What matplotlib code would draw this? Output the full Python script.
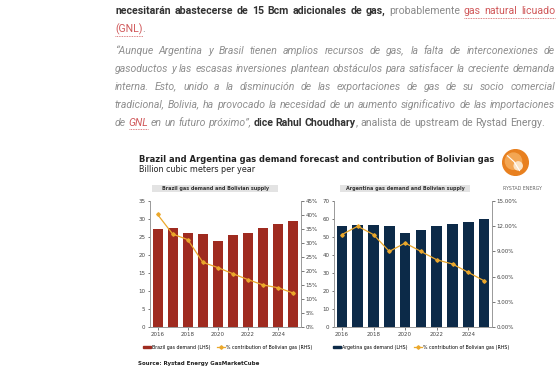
import matplotlib
matplotlib.use("Agg")
import matplotlib.pyplot as plt
from matplotlib.patches import Rectangle, Circle, Patch
from matplotlib.lines import Line2D

# ---- data ----
years = [2016, 2017, 2018, 2019, 2020, 2021, 2022, 2023, 2024, 2025]
brazil_demand = [27.2, 27.5, 26.0, 25.8, 24.0, 25.5, 26.0, 27.5, 28.5, 29.5]
brazil_bolivia_pct = [40.2, 33.2, 31.2, 23.1, 21.2, 19.0, 16.9, 15.0, 14.0, 12.1]
argentina_demand = [56.0, 56.5, 56.5, 56.3, 52.5, 54.0, 56.0, 57.0, 58.5, 60.0]
argentina_bolivia_pct = [11.0, 12.0, 11.0, 9.0, 10.0, 9.0, 8.0, 7.5, 6.5, 5.5]
year_ticks = [2016, 2018, 2020, 2022, 2024]

W, H = 560, 367
fig = plt.figure(figsize=(W / 100, H / 100), dpi=100)
fig.patch.set_facecolor("white")

def fx(px):
    return px / W

def fy(py):
    return 1 - py / H

# ---- article text above the chart ----
STY = {
    "b": dict(family="Roboto", fontweight="bold", color="#333333"),
    "r": dict(family="Roboto", fontweight="normal", color="#8a8a8a"),
    "l": dict(family="Roboto", fontweight="normal", color="#d0585a"),
    "i": dict(family="Roboto", fontweight="normal", style="italic", color="#8f8f8f"),
    "il": dict(family="Roboto", fontweight="normal", style="italic", color="#d0585a"),
}
lines = [
    (11, [("necesitarán abastecerse de 15 Bcm adicionales de gas, ", "b"),
          ("probablemente ", "r"), ("gas natural licuado", "l")], True),
    (29, [("(GNL)", "l"), (".", "r")], False),
    (50.5, [("\u201cAunque Argentina y Brasil tienen amplios recursos de gas, la falta de interconexiones de", "i")], True),
    (68.5, [("gasoductos y las escasas inversiones plantean obstáculos para satisfacer la creciente demanda", "i")], True),
    (86.5, [("interna. Esto, unido a la disminución de las exportaciones de gas de su socio comercial", "i")], True),
    (104.5, [("tradicional, Bolivia, ha provocado la necesidad de un aumento significativo de las importaciones", "i")], True),
    (122.5, [("de ", "i"), ("GNL", "il"), (" en un futuro próximo\u201d, ", "i"),
             ("dice Rahul Choudhary", "b"), (", analista de upstream de Rystad Energy.", "r")], False),
]
X0, X1 = 115, 555
fs_text = 7.6
renderer = fig.canvas.get_renderer()

for ypx, segs, justify in lines:
    # split into words; a segment that does not begin with a space is glued to the previous word
    words = []
    prev_end_space = True
    for txt, sty in segs:
        parts = txt.split(" ")
        for k, p in enumerate(parts):
            if p == "":
                continue
            glue = (k == 0 and not prev_end_space and len(words) > 0)
            words.append([p, sty, glue])
        prev_end_space = txt.endswith(" ")
    arts = [fig.text(0, fy(ypx), w, fontsize=fs_text, va="center", ha="left", **STY[s])
            for w, s, g in words]
    widths = [a.get_window_extent(renderer).width for a in arts]
    n_gaps = sum(1 for w in words[1:] if not w[2])
    space = 2.5
    if justify and n_gaps > 0:
        space = (X1 - X0 - sum(widths)) / n_gaps
    x = X0
    pos = []
    for i, (a, wd) in enumerate(zip(arts, widths)):
        if i > 0 and not words[i][2]:
            x += space
        a.set_x(fx(x))
        pos.append((x, wd))
        x += wd
    # dotted underline for links
    for i, (w, s, g) in enumerate(words):
        if s in ("l", "il"):
            xs, wd = pos[i]
            xe = xs + wd
            if i + 1 < len(words) and words[i + 1][1] == s:
                xe = pos[i + 1][0]
            fig.add_artist(Line2D([fx(xs), fx(xe)], [fy(ypx + 6.5), fy(ypx + 6.5)],
                                  color="#d0585a", lw=0.6, ls=(0, (1, 1))))

# ---- chart titles ----
fig.text(fx(139), fy(159), "Brazil and Argentina gas demand forecast and contribution of Bolivian gas",
         fontsize=6.0, fontweight="bold", color="#222222", va="center", ha="left")
fig.text(fx(139), fy(169.5), "Billion cubic meters per year",
         fontsize=5.8, color="#222222", va="center", ha="left")

# logo
lax = fig.add_axes([fx(502), fy(176), fx(27), 27 / H])
lax.set_xlim(-1, 1)
lax.set_ylim(-1, 1)
lax.set_aspect("equal")
lax.axis("off")
lax.add_patch(Circle((0, 0), 0.95, color="#e8801f"))
lax.add_patch(Circle((-0.15, 0.1), 0.6, color="#f3a653"))
lax.add_patch(Circle((0.2, -0.25), 0.3, color="#fbe3c4"))
lax.plot([-0.6, -0.1, 0.3], [0.5, 0.05, -0.6], color="white", lw=0.8)
fig.text(fx(522), fy(188), "RYSTAD ENERGY", fontsize=3.4, color="#666666", ha="center", va="center")

bar_red = "#9f2b20"
bar_navy = "#0c2a48"
line_col = "#eba82c"
spine_col = "#9a9a9a"
tick_fs = 4.0


def style_axes(ax, ax2):
    for a in (ax, ax2):
        for s in a.spines.values():
            s.set_color(spine_col)
            s.set_linewidth(0.6)
        a.spines["top"].set_visible(False)
        a.tick_params(labelsize=tick_fs, length=1.8, width=0.5, colors="#444444", pad=1.5)
    ax.set_xlim(2015.5, 2025.5)
    ax.set_xticks(year_ticks)


ax_titles = {150: "Brazil gas demand and Bolivian supply",
             334: "Argentina gas demand and Bolivian supply"}


def panel(left, right, title_box, demand, pct, color, ylim, yticks, y2lim, y2ticks, y2fmt, leg_x, leg_label):
    ax = fig.add_axes([fx(left), fy(327), fx(right - left), 126 / H])
    ax2 = ax.twinx()
    ax.bar(years, demand, width=0.66, color=color, zorder=2)
    ax2.plot(years, pct, color=line_col, lw=0.9, marker="D", ms=1.8, zorder=3)
    ax.set_ylim(*ylim)
    ax.set_yticks(yticks)
    ax2.set_ylim(*y2lim)
    ax2.set_yticks(y2ticks)
    ax2.set_yticklabels([y2fmt.format(v) for v in y2ticks])
    style_axes(ax, ax2)
    # panel title in a grey box
    bx0, bx1 = title_box
    fig.add_artist(Rectangle((fx(bx0), fy(192)), fx(bx1 - bx0), 7 / H, color="#e3e3e3", lw=0))
    fig.text(fx((bx0 + bx1) / 2), fy(188.5), ax_titles[left], fontsize=3.5, fontweight="bold",
             color="#333333", ha="center", va="center")
    handles = [Patch(color=color), Line2D([], [], color=line_col, lw=0.9, marker="D", ms=1.8)]
    fig.legend(handles, [leg_label, "% contribution of Bolivian gas (RHS)"], loc="center left",
               bbox_to_anchor=(fx(leg_x), fy(347)), ncol=2, frameon=False, fontsize=3.45,
               handlelength=1.6, handleheight=0.45, handletextpad=0.2, columnspacing=1.5,
               borderpad=0, borderaxespad=0)
    return ax, ax2


panel(150, 301, (152, 278), brazil_demand, brazil_bolivia_pct, bar_red,
      (0, 35), range(0, 36, 5), (0, 45), list(range(0, 46, 5)), "{:.0f}%", 143, "Brazil gas demand (LHS)")
panel(334, 492, (340, 470), argentina_demand, argentina_bolivia_pct, bar_navy,
      (0, 70), range(0, 71, 10), (0, 15), [0, 3, 6, 9, 12, 15], "{:.2f}%", 333, "Argetina gas demand (LHS)")

fig.text(fx(138), fy(363), "Source: Rystad Energy GasMarketCube", fontsize=4.0, fontweight="bold",
         color="#222222", ha="left", va="center")

fig.savefig("out.png", dpi=100, facecolor="white")
